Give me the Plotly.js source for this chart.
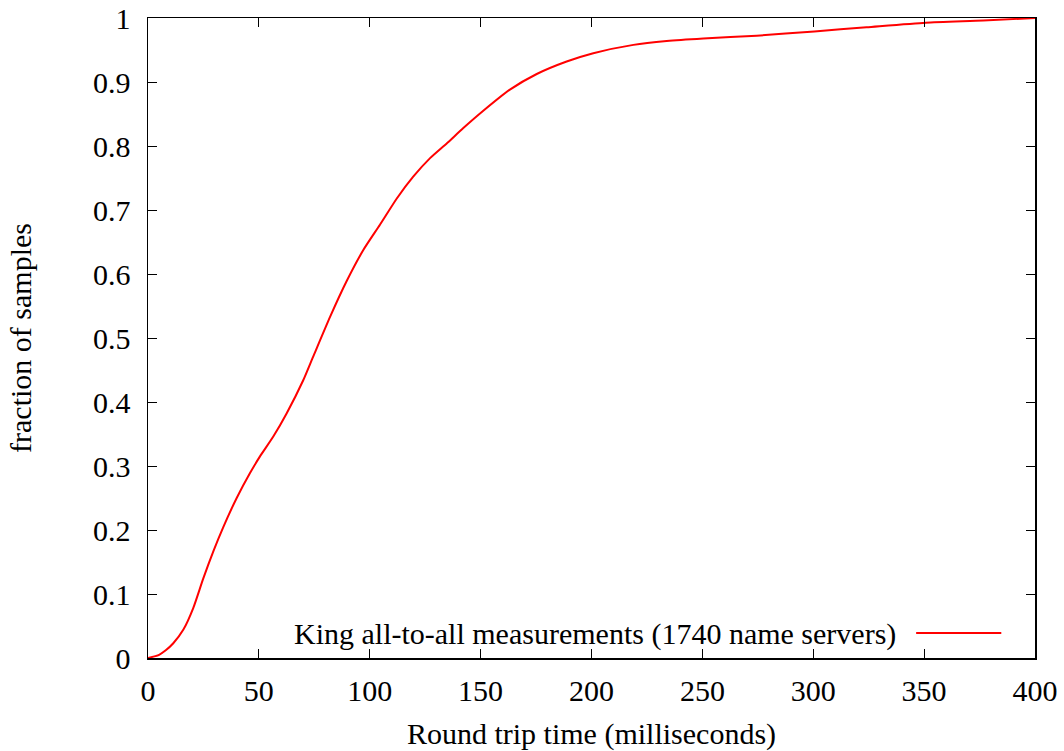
<!DOCTYPE html>
<html>
<head>
<meta charset="utf-8">
<script src="https://cdn.plot.ly/plotly-3.0.1.min.js"></script>
<style>html,body{margin:0;padding:0;background:#fff;}#chart{width:1064px;height:751px;}</style>
</head>
<body>
<div id="chart"></div>
<script>
// Round trip time (ms)
const rttMs = [0, 5, 8, 11.4, 15.9, 20.4, 24.9, 29.5, 34, 40, 46, 50.5, 56.5, 62.5, 70, 74.5, 82.1, 89.6, 97.1, 104.6, 112.2, 119.6, 127.2, 134.7, 142.2, 151.2, 163.2, 175.3, 188.8, 200.8, 218.9, 233.9, 250.4, 274.5, 300.5, 324, 350.7, 376.7, 400];
// Cumulative fraction of samples
const fraction = [0, 0.005, 0.012, 0.023, 0.044, 0.078, 0.124, 0.167, 0.205, 0.250, 0.289, 0.315, 0.346, 0.382, 0.434, 0.471, 0.533, 0.589, 0.6375, 0.677, 0.718, 0.752, 0.781, 0.804, 0.828, 0.855, 0.888, 0.9125, 0.932, 0.945, 0.958, 0.964, 0.968, 0.9724, 0.979, 0.9855, 0.9927, 0.996, 1.0];
const xTicks = [0, 50, 100, 150, 200, 250, 300, 350, 400];
const yTicks = [0, 0.1, 0.2, 0.3, 0.4, 0.5, 0.6, 0.7, 0.8, 0.9, 1];
const yTickLabels = ["0", "0.1", "0.2", "0.3", "0.4", "0.5", "0.6", "0.7", "0.8", "0.9", "1"];
const seriesName = "King all-to-all measurements (1740 name servers)";

const font = {family: "Liberation Serif, Times New Roman, serif", size: 30, color: "#000"};

const trace = {
  x: rttMs, y: fraction, type: "scatter", mode: "lines",
  name: seriesName,
  line: {color: "#ff0000", width: 2, shape: "spline", smoothing: 0.6},
  showlegend: false
};

const axisCommon = {
  showgrid: false, zeroline: false, showline: true, linecolor: "#000", linewidth: 1.5,
  mirror: "ticks", ticks: "inside", ticklen: 9, tickwidth: 1, tickcolor: "#000",
  tickfont: font
};

const layout = {
  width: 1064, height: 751,
  margin: {l: 148, r: 29, t: 18, b: 93},
  paper_bgcolor: "#fff", plot_bgcolor: "#fff",
  font: font,
  xaxis: Object.assign({}, axisCommon, {
    range: [0, 400], tickvals: xTicks, ticktext: xTicks.map(String),
    ticklabelstandoff: 5,
    title: {text: "Round trip time (milliseconds)", font: font, standoff: 20}
  }),
  yaxis: Object.assign({}, axisCommon, {
    range: [0, 1], tickvals: yTicks, ticktext: yTickLabels,
    ticklabelstandoff: 10,
    title: {text: "fraction of samples", font: font, standoff: 52}
  }),
  annotations: [{
    xref: "paper", yref: "paper", x: 0.845, y: 0.037, xanchor: "right", yanchor: "middle",
    text: seriesName, showarrow: false, font: font
  }],
  shapes: [{
    type: "line", xref: "paper", yref: "paper", x0: 0.866, x1: 0.962, y0: 0.039, y1: 0.039,
    line: {color: "#ff0000", width: 2}
  }]
};

Plotly.newPlot("chart", [trace], layout, {displayModeBar: false, staticPlot: true});
</script>
</body>
</html>
